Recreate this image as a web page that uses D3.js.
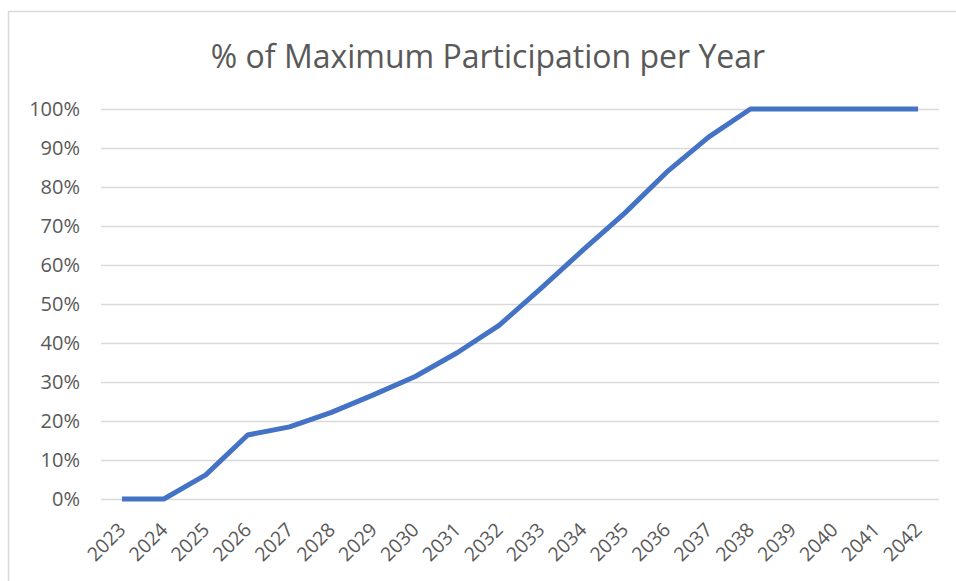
<!DOCTYPE html>
<meta charset="utf-8">
<style>
  body { margin: 0; background: #fff; }
  text { font-family: "Open Sans", "Liberation Sans", sans-serif; fill: #595959; }
</style>
<script src="https://d3js.org/d3.v7.min.js"></script>
<div id="chart"></div>
<script>
  // chart data
  var years = ["2023", "2024", "2025", "2026", "2027", "2028", "2029", "2030", "2031", "2032",
    "2033", "2034", "2035", "2036", "2037", "2038", "2039", "2040", "2041", "2042"];
  var share = [0, 0, 0.062, 0.164, 0.185, 0.222, 0.267, 0.314, 0.375, 0.445,
    0.54, 0.638, 0.733, 0.838, 0.928, 1, 1, 1, 1, 1];
  var yTicks = [0, 0.1, 0.2, 0.3, 0.4, 0.5, 0.6, 0.7, 0.8, 0.9, 1];

  var W = 956, H = 581;
  var margin = { top: 109, right: 17, bottom: 82, left: 101 },
    width = W - margin.left - margin.right,
    height = H - margin.top - margin.bottom;

  var svg = d3.select("#chart")
    .append("svg")
    .attr("width", W)
    .attr("height", H);

  // chart frame
  svg.append("rect")
    .attr("x", 8.5).attr("y", 11.5)
    .attr("width", 1000).attr("height", 1000)
    .style("fill", "none")
    .style("stroke", "#d9d9d9")
    .style("stroke-width", 1.5);

  svg.append("text")
    .attr("x", 488)
    .attr("y", 68)
    .attr("text-anchor", "middle")
    .style("font-size", "32px")
    .text("% of Maximum Participation per Year");

  var g = svg.append("g")
    .attr("transform", "translate(" + margin.left + "," + margin.top + ")");

  var x = d3.scaleBand()
    .domain(years)
    .range([0, width]);
  var y = d3.scaleLinear()
    .domain([0, 1])
    .range([height, 0]);

  // gridlines + y labels
  var yAxis = d3.axisLeft(y)
    .tickValues(yTicks)
    .tickSize(-width)
    .tickPadding(21)
    .tickFormat(d3.format(".0%"));
  var gY = g.append("g").call(yAxis);
  gY.select(".domain").remove();
  gY.selectAll(".tick line")
    .style("stroke", "#d9d9d9")
    .style("stroke-width", 1.5);
  gY.selectAll(".tick text")
    .style("font-size", "20px")
    .style("fill", "#595959");

  // x labels
  var xAxis = d3.axisBottom(x).tickSize(0).tickPadding(0);
  var gX = g.append("g")
    .attr("transform", "translate(0," + height + ")")
    .call(xAxis);
  gX.select(".domain").remove();
  gX.selectAll(".tick text")
    .attr("text-anchor", "end")
    .attr("dy", null)
    .attr("y", null)
    .attr("transform", "translate(5,32) rotate(-45)")
    .style("font-size", "19.5px")
    .style("fill", "#595959");

  var line = d3.line()
    .x(function (d, i) { return x(years[i]) + x.bandwidth() / 2; })
    .y(function (d) { return y(d); });

  g.append("path")
    .datum(share)
    .attr("d", line)
    .style("fill", "none")
    .style("stroke", "#4472c4")
    .style("stroke-width", 5)
    .style("stroke-linejoin", "round");
</script>
